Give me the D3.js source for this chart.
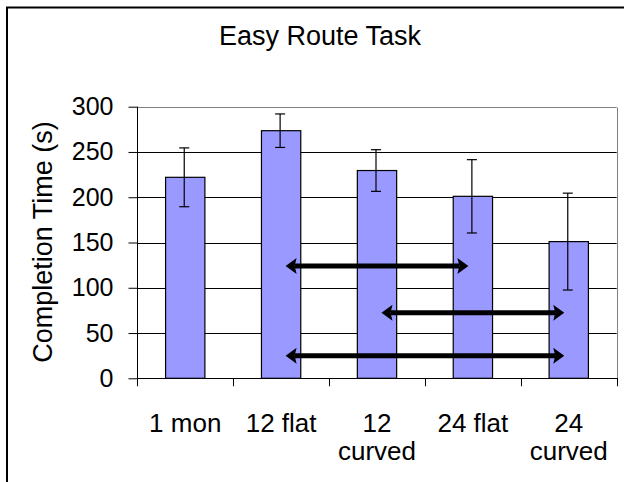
<!DOCTYPE html>
<html>
<head>
<meta charset="utf-8">
<script src="https://cdn.jsdelivr.net/npm/d3@7/dist/d3.min.js"></script>
<style>
  html, body { margin: 0; padding: 0; background: #fff; }
  svg { display: block; font-family: "Liberation Sans", Arial, sans-serif; }
</style>
</head>
<body>
<svg id="chart" width="624" height="482"></svg>
<script>
// ---- data ----
const categories = ["1 mon", "12 flat", "12 curved", "24 flat", "24 curved"];
const categoryLines = [["1 mon"], ["12 flat"], ["12", "curved"], ["24 flat"], ["24", "curved"]];
const completionTime = [222, 273.5, 229.5, 201, 151];
const errorAmount = [32.5, 18.5, 23, 40.5, 53.5];
const yTicks = [0, 50, 100, 150, 200, 250, 300];
const arrowFrom = ["12 flat", "12 curved", "12 flat"];
const arrowTo = ["24 flat", "24 curved", "24 curved"];
const arrowLevel = [124, 72.5, 25];

// ---- layout ----
const svg = d3.select("#chart");
const plot = { left: 137.3, right: 616.7, top: 106.7, bottom: 378.3 };

const x = d3.scaleBand().domain(categories).range([plot.left, plot.right]).padding(0);
const y = d3.scaleLinear().domain([0, 300]).range([plot.bottom, plot.top]);
const barW = x.bandwidth() * 0.41;
const cx = c => x(c) + x.bandwidth() / 2;

// outer chart border (clipped on right/bottom)
svg.append("rect")
  .attr("x", 7).attr("y", 7.5).attr("width", 700).attr("height", 600)
  .attr("fill", "none").attr("stroke", "#000").attr("stroke-width", 2);

// title
svg.append("text")
  .attr("x", 320).attr("y", 45)
  .attr("text-anchor", "middle")
  .attr("font-size", 27)
  .attr("fill", "#000")
  .text("Easy Route Task");

// gridlines
svg.append("g").selectAll("line").data(yTicks.filter(t => t > 0)).join("line")
  .attr("x1", plot.left).attr("x2", plot.right)
  .attr("y1", d => Math.round(y(d)) + 0.5).attr("y2", d => Math.round(y(d)) + 0.5)
  .attr("stroke", d => d === 300 ? "#808080" : "#000")
  .attr("stroke-width", 1);

// plot area right border
svg.append("line")
  .attr("x1", Math.round(plot.right) + 0.5).attr("x2", Math.round(plot.right) + 0.5)
  .attr("y1", Math.round(y(300)) + 0.5).attr("y2", plot.bottom)
  .attr("stroke", "#808080").attr("stroke-width", 1);

// bars
svg.append("g").selectAll("rect").data(categories).join("rect")
  .attr("x", c => cx(c) - barW / 2)
  .attr("y", (c, i) => y(completionTime[i]))
  .attr("width", barW)
  .attr("height", (c, i) => y(0) - y(completionTime[i]))
  .attr("fill", "#9999FF")
  .attr("stroke", "#000")
  .attr("stroke-width", 1.2);

// error bars
const eb = svg.append("g").attr("stroke", "#000").attr("stroke-width", 1.2);
categories.forEach((c, i) => {
  const xc = cx(c) - 1;
  const hi = y(completionTime[i] + errorAmount[i]);
  const lo = y(completionTime[i] - errorAmount[i]);
  eb.append("line").attr("x1", xc).attr("x2", xc).attr("y1", hi).attr("y2", lo);
  eb.append("line").attr("x1", xc - 5).attr("x2", xc + 5).attr("y1", hi).attr("y2", hi);
  eb.append("line").attr("x1", xc - 5).attr("x2", xc + 5).attr("y1", lo).attr("y2", lo);
});

// y axis
const yAxis = d3.axisLeft(y).tickValues(yTicks).tickSize(9).tickPadding(15).tickFormat(d3.format("d"));
const gy = svg.append("g").attr("transform", `translate(${Math.round(plot.left) + 0.5},0)`).call(yAxis);
gy.select(".domain").attr("stroke", "#000").attr("d", `M0,${plot.top}V${plot.bottom}`);
gy.selectAll(".tick line").attr("stroke", "#000");
gy.selectAll(".tick text").attr("font-size", 25).attr("font-family", "Liberation Sans, Arial, sans-serif").attr("fill", "#000");

// x axis (ticks at category boundaries)
const xg = svg.append("g");
xg.append("line")
  .attr("x1", plot.left).attr("x2", plot.right + 1)
  .attr("y1", Math.round(plot.bottom) + 0.5).attr("y2", Math.round(plot.bottom) + 0.5)
  .attr("stroke", "#000");
const bounds = categories.map(c => x(c)).concat([plot.right]);
xg.selectAll("line.tk").data(bounds).join("line").attr("class", "tk")
  .attr("x1", d => Math.round(d) + 0.5).attr("x2", d => Math.round(d) + 0.5)
  .attr("y1", plot.bottom).attr("y2", plot.bottom + 8)
  .attr("stroke", "#000");
categories.forEach((c, i) => {
  const t = xg.append("text")
    .attr("x", cx(c)).attr("y", 432)
    .attr("text-anchor", "middle")
    .attr("font-size", 26)
    .attr("fill", "#000");
  categoryLines[i].forEach((ln, j) => {
    t.append("tspan").attr("x", cx(c)).attr("dy", j === 0 ? 0 : 28).text(ln);
  });
});

// y axis title
svg.append("text")
  .attr("transform", "translate(52,242) rotate(-90)")
  .attr("text-anchor", "middle")
  .attr("font-size", 27)
  .attr("fill", "#000")
  .text("Completion Time (s)");

// comparison arrows
const ag = svg.append("g");
const inset = 4.5, headLen = 11, headHalf = 8, lineW = 5;
arrowLevel.forEach((lvl, i) => {
  const xa = cx(arrowFrom[i]) + inset;
  const xb = cx(arrowTo[i]) - inset;
  const yy = y(lvl);
  ag.append("line")
    .attr("x1", xa + headLen - 2).attr("x2", xb - headLen + 2)
    .attr("y1", yy).attr("y2", yy)
    .attr("stroke", "#000").attr("stroke-width", lineW);
  ag.append("path")
    .attr("d", `M${xa},${yy}L${xa + headLen},${yy - headHalf}L${xa + headLen - 2},${yy}L${xa + headLen},${yy + headHalf}Z`)
    .attr("fill", "#000");
  ag.append("path")
    .attr("d", `M${xb},${yy}L${xb - headLen},${yy - headHalf}L${xb - headLen + 2},${yy}L${xb - headLen},${yy + headHalf}Z`)
    .attr("fill", "#000");
});
</script>
</body>
</html>
